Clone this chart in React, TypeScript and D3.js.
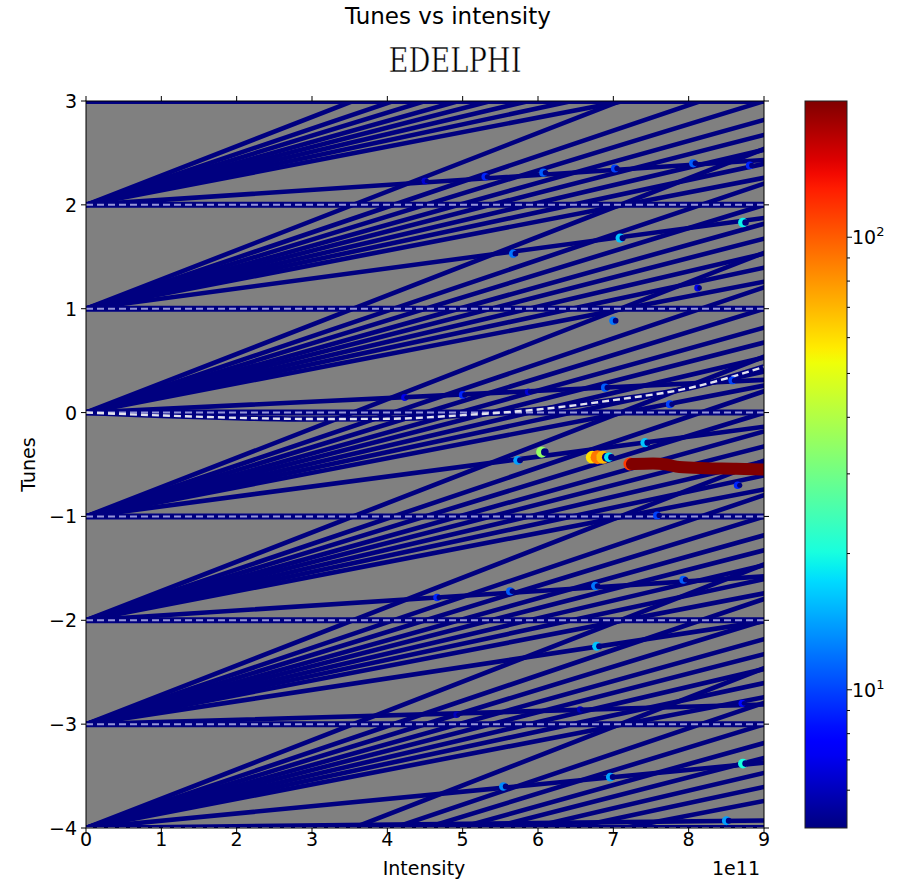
import React from "react";
import * as d3 from "d3";

const W = 903;
const H = 882;
const PLOT = { left: 86, right: 764, top: 101, bottom: 828 };
const CB = { left: 805, right: 847, top: 101, bottom: 828 };

// axis ticks
const intensityTicks = [0, 1, 2, 3, 4, 5, 6, 7, 8, 9];
const tuneTicks = [-4, -3, -2, -1, 0, 1, 2, 3];

// mode fans: each integer tune emits a bundle of rising modes (slope in tune per 1e11)
const fanBases = [-5, -4, -3, -2, -1, 0, 1, 2, 3];
const bundleSlopes = [0.282, 0.245, 0.222, 0.202, 0.186, 0.17, 0.155, 0.14];
const sideSlopes = [0.07, 0.07, 0.11, 0.047, 0.096, 0.035, 0.097, 0.048, 0.05];
const flatSlopes = [0.008, 0.008, 0.021, 0, 0, 0, 0, 0, 0];
const dashedIntegers = [-4, -3, -2, -1, 0, 1, 2];

// the azimuthal mode 0 curve (white dashed)
const mode0I = [0, 1, 2, 3, 4, 5, 6, 7, 8, 9];
const mode0Q = [0, -0.028, -0.05, -0.062, -0.06, -0.025, 0.03, 0.12, 0.235, 0.44];

// unstable points: intensity (1e11), tune, growth rate
const unstableI = [4.5, 5.3, 6.07, 7.02, 8.06, 8.81, 5.67, 7.09, 8.72, 8.12, 7.0, 4.23, 5.0, 5.87, 6.89, 7.75, 8.58, 5.73, 6.05, 6.72, 6.79, 6.86, 6.94, 7.42, 8.65, 7.58, 4.66, 5.63, 6.76, 7.93, 6.78, 8.71, 4.92, 6.56, 5.54, 6.96, 8.72, 8.5];
const unstableQ = [2.23, 2.27, 2.31, 2.35, 2.4, 2.38, 1.53, 1.68, 1.83, 1.2, 0.885, 0.145, 0.17, 0.2, 0.24, 0.08, 0.31, -0.46, -0.38, -0.43, -0.43, -0.43, -0.43, -0.29, -0.7, -0.99, -1.78, -1.72, -1.67, -1.61, -2.25, -2.8, -2.91, -2.86, -3.6, -3.51, -3.38, -3.93];
const unstableGrowth = [6.5, 9, 11, 10, 11, 9, 12, 16, 19, 7, 12, 7, 9, 6.5, 11, 10, 10, 14, 35, 60, 90, 70, 18, 16, 9, 10, 9, 11, 12, 11, 16, 8, 6, 6, 13, 14, 20, 14];

// strongly coupled (TMCI) branch
const coupledI = [7.22, 7.5, 7.68, 7.85, 8.2, 8.6, 9.0];
const coupledQ = [-0.495, -0.49, -0.5, -0.525, -0.535, -0.54, -0.55];
const coupledGrowth = 200;
const coupledOnsetGrowth = 115;

// colour bar
const colorDomain = [4.95, 200];
const cbMajor = [10, 100];
const cbMinor = [6, 7, 8, 9, 20, 30, 40, 50, 60, 70, 80, 90];

const x = d3.scaleLinear().domain([0, 9]).range([PLOT.left, PLOT.right]);
const y = d3.scaleLinear().domain([-4, 3]).range([PLOT.bottom, PLOT.top]);
const cbY = d3.scaleLog().domain(colorDomain).range([CB.bottom, CB.top]);
const norm = d3.scaleLog().domain(colorDomain).range([0, 1]).clamp(true);
const radius = d3.scaleLog().domain(colorDomain).range([3, 8]).clamp(true);

const jetR = d3.scaleLinear().domain([0, 0.35, 0.66, 0.89, 1]).range([0, 0, 1, 1, 0.5]).clamp(true);
const jetG = d3.scaleLinear().domain([0, 0.125, 0.375, 0.64, 0.91, 1]).range([0, 0, 1, 1, 0, 0]).clamp(true);
const jetB = d3.scaleLinear().domain([0, 0.11, 0.34, 0.65, 1]).range([0.5, 1, 1, 0, 0]).clamp(true);
const jet = (t: number) => d3.rgb(255 * jetR(t), 255 * jetG(t), 255 * jetB(t)).formatHex();
const NAVY = jet(0);

const FONT = "DejaVu Sans, sans-serif";

export default function App() {
  const lineGen = d3.line<[number, number]>().x((d) => x(d[0])).y((d) => y(d[1]));
  const curveGen = d3
    .line<number>()
    .x((_, i) => x(mode0I[i]))
    .y((d) => y(d))
    .curve(d3.curveMonotoneX);
  const coupledGen = d3
    .line<number>()
    .x((_, i) => x(coupledI[i]))
    .y((d) => y(d))
    .curve(d3.curveMonotoneX);

  const modeLines: { b: number; s: number }[] = [];
  fanBases.forEach((b, k) => {
    bundleSlopes.forEach((s) => modeLines.push({ b, s }));
    modeLines.push({ b, s: sideSlopes[k] });
    if (flatSlopes[k] > 0) modeLines.push({ b, s: flatSlopes[k] });
  });

  const gradStops = d3.range(0, 1.0001, 0.02);

  return (
    <svg width={W} height={H} style={{ position: "absolute", left: 0, top: 0, background: "#fff" }} xmlns="http://www.w3.org/2000/svg">
      <defs>
        <clipPath id="plotClip">
          <rect x={PLOT.left} y={PLOT.top} width={PLOT.right - PLOT.left} height={PLOT.bottom - PLOT.top} />
        </clipPath>
        <linearGradient id="jetGrad" x1="0" y1="1" x2="0" y2="0">
          {gradStops.map((t) => (
            <stop key={t} offset={t} stopColor={jet(t)} />
          ))}
        </linearGradient>
      </defs>

      {/* titles */}
      <text x={448} y={24} textAnchor="middle" fontFamily={FONT} fontSize={23} fill="#000">
        Tunes vs intensity
      </text>
      <text x={455} y={72} textAnchor="middle" fontFamily="DejaVu Serif Condensed, DejaVu Serif, serif" fontSize={33} textLength={133} lengthAdjust="spacingAndGlyphs" fill="#000" stroke="#fff" strokeWidth={0.45}>
        EDELPHI
      </text>

      {/* plot area */}
      <rect x={PLOT.left} y={PLOT.top} width={PLOT.right - PLOT.left} height={PLOT.bottom - PLOT.top} fill="#808080" />
      <g clipPath="url(#plotClip)">
        {modeLines.map((m, i) => (
          <path key={i} d={lineGen([[0, m.b], [9, m.b + 9 * m.s]]) || ""} stroke={NAVY} strokeWidth={4.6} fill="none" strokeLinecap="round" />
        ))}
        {fanBases.map((b) => (
          <line key={"h" + b} x1={x(0)} x2={x(9)} y1={y(b)} y2={y(b)} stroke={NAVY} strokeWidth={6} />
        ))}
        <path d={curveGen(mode0Q) || ""} stroke={NAVY} strokeWidth={5.5} fill="none" />
        {dashedIntegers.map((q) => (
          <line key={q} x1={x(0)} x2={x(9)} y1={y(q)} y2={y(q)} stroke="#9494d8" strokeWidth={2} strokeDasharray="7 4" />
        ))}
        <path d={curveGen(mode0Q) || ""} stroke="#e2e2ee" strokeWidth={2.4} fill="none" strokeDasharray="7 4" />
        {unstableI.map((xi, i) => {
          const r = radius(unstableGrowth[i]);
          const cx = x(xi);
          const cy = y(unstableQ[i]);
          return (
            <g key={i}>
              <circle cx={cx} cy={cy} r={r} fill={jet(norm(unstableGrowth[i]))} />
              <circle cx={cx + r * 0.55} cy={cy} r={r * 0.68} fill={NAVY} />
            </g>
          );
        })}
        <circle cx={x(coupledI[0])} cy={y(coupledQ[0])} r={6.5} fill={jet(norm(coupledOnsetGrowth))} />
        <path d={coupledGen(coupledQ) || ""} transform="translate(2,0)" stroke={jet(norm(coupledGrowth))} strokeWidth={12} strokeLinecap="round" fill="none" />
      </g>

      {/* frame */}
      <rect x={PLOT.left} y={PLOT.top} width={PLOT.right - PLOT.left} height={PLOT.bottom - PLOT.top} fill="none" stroke="#000" strokeWidth={1} />
      {intensityTicks.map((t) => (
        <g key={"xt" + t}>
          <line x1={x(t)} x2={x(t)} y1={PLOT.bottom} y2={PLOT.bottom + 5} stroke="#000" />
          <line x1={x(t)} x2={x(t)} y1={PLOT.top} y2={PLOT.top - 5} stroke="#000" />
          <text x={x(t)} y={846} textAnchor="middle" fontFamily={FONT} fontSize={19} fill="#000">
            {t}
          </text>
        </g>
      ))}
      {tuneTicks.map((t) => (
        <g key={"yt" + t}>
          <line x1={PLOT.left} x2={PLOT.left - 5} y1={y(t)} y2={y(t)} stroke="#000" />
          <line x1={PLOT.right} x2={PLOT.right + 5} y1={y(t)} y2={y(t)} stroke="#000" />
          <text x={77} y={y(t) + 7} textAnchor="end" fontFamily={FONT} fontSize={19} fill="#000">
            {t < 0 ? "\u2212" + Math.abs(t) : String(t)}
          </text>
        </g>
      ))}
      <text x={424} y={875} textAnchor="middle" fontFamily={FONT} fontSize={19} fill="#000">
        Intensity
      </text>
      <text x={760} y={875} textAnchor="end" fontFamily={FONT} fontSize={19} fill="#000">
        1e11
      </text>
      <text transform={`translate(35,${(PLOT.top + PLOT.bottom) / 2}) rotate(-90)`} textAnchor="middle" fontFamily={FONT} fontSize={19} fill="#000">
        Tunes
      </text>

      {/* colour bar */}
      <rect x={CB.left} y={CB.top} width={CB.right - CB.left} height={CB.bottom - CB.top} fill="url(#jetGrad)" stroke="#222" strokeWidth={1} />
      {cbMinor.map((v) => (
        <line key={"m" + v} x1={CB.right} x2={CB.right + 3} y1={cbY(v)} y2={cbY(v)} stroke="#000" />
      ))}
      {cbMajor.map((v, i) => (
        <g key={"M" + v}>
          <line x1={CB.right} x2={CB.right + 5} y1={cbY(v)} y2={cbY(v)} stroke="#000" />
          <text x={852} y={cbY(v) + 7} fontFamily={FONT} fontSize={19} fill="#000">
            10
            <tspan dy={-8} fontSize={13}>
              {i + 1}
            </tspan>
          </text>
        </g>
      ))}
    </svg>
  );
}
